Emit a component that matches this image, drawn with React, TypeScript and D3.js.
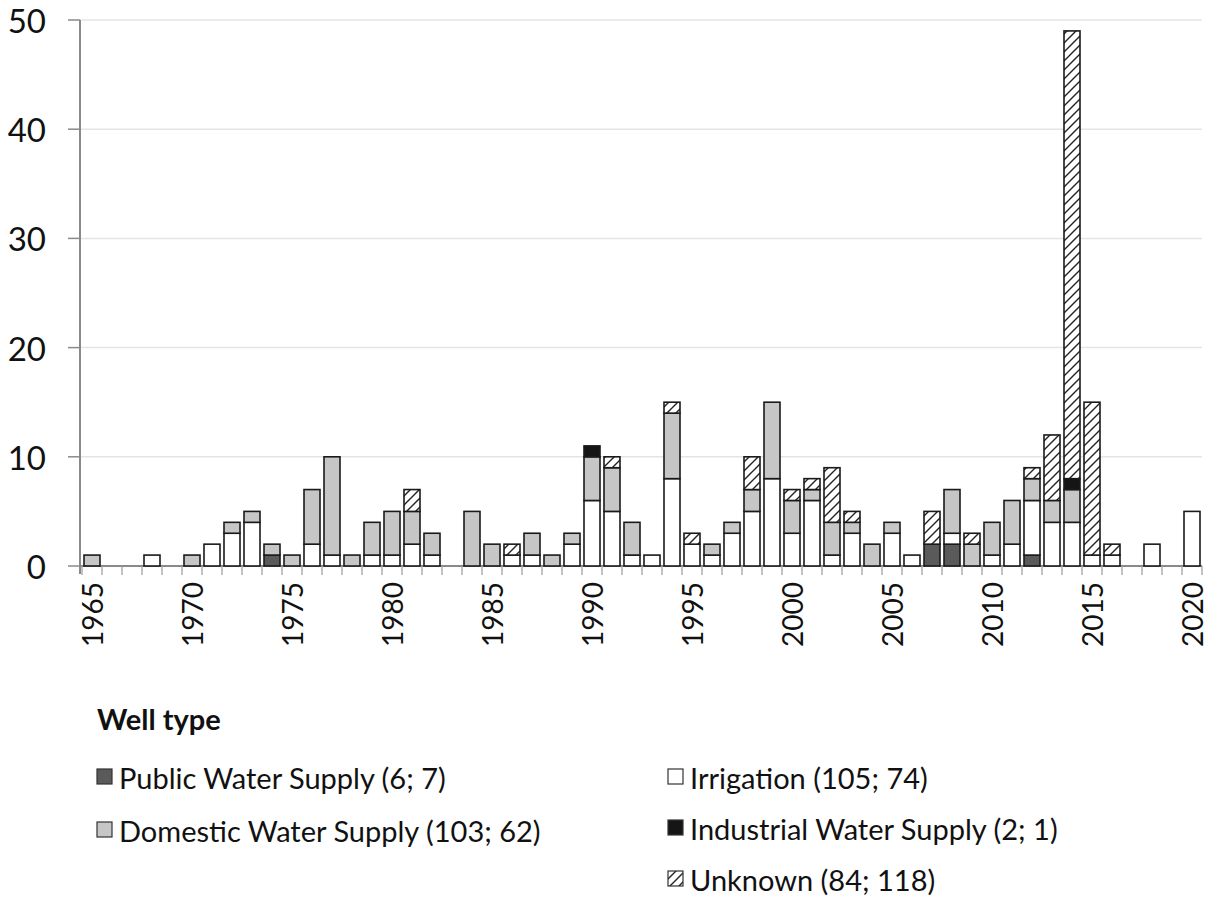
import React from 'react';
import * as d3 from 'd3';

// years on the x axis (one band per year)
const years = d3.range(1965, 2021);
const tickYears = [1965, 1970, 1975, 1980, 1985, 1990, 1995, 2000, 2005, 2010, 2015, 2020];
const yTicks = [0, 10, 20, 30, 40, 50];

// wells per year, [year, count]
const publicSupply: [number, number][] = [[1974, 1], [2007, 2], [2008, 2], [2012, 1]];
const irrigation: [number, number][] = [
  [1968, 1], [1971, 2], [1972, 3], [1973, 4], [1976, 2], [1977, 1], [1979, 1], [1980, 1],
  [1981, 2], [1982, 1], [1986, 1], [1987, 1], [1989, 2], [1990, 6], [1991, 5], [1992, 1],
  [1993, 1], [1994, 8], [1995, 2], [1996, 1], [1997, 3], [1998, 5], [1999, 8], [2000, 3],
  [2001, 6], [2002, 1], [2003, 3], [2005, 3], [2006, 1], [2008, 1], [2010, 1], [2011, 2],
  [2012, 5], [2013, 4], [2014, 4], [2015, 1], [2016, 1], [2018, 2], [2020, 5],
];
const domestic: [number, number][] = [
  [1965, 1], [1970, 1], [1972, 1], [1973, 1], [1974, 1], [1975, 1], [1976, 5], [1977, 9],
  [1978, 1], [1979, 3], [1980, 4], [1981, 3], [1982, 2], [1984, 5], [1985, 2], [1987, 2],
  [1988, 1], [1989, 1], [1990, 4], [1991, 4], [1992, 3], [1994, 6], [1996, 1], [1997, 1],
  [1998, 2], [1999, 7], [2000, 3], [2001, 1], [2002, 3], [2003, 1], [2004, 2], [2005, 1],
  [2008, 4], [2009, 2], [2010, 3], [2011, 4], [2012, 2], [2013, 2], [2014, 3],
];
const industrial: [number, number][] = [[1990, 1], [2014, 1]];
const unknown: [number, number][] = [
  [1981, 2], [1986, 1], [1991, 1], [1994, 1], [1995, 1], [1998, 3], [2000, 1], [2001, 1],
  [2002, 5], [2003, 1], [2007, 3], [2009, 1], [2012, 1], [2013, 6], [2014, 41], [2015, 14],
  [2016, 1],
];

const series = [
  { key: 'public', values: publicSupply, fill: '#5a5a5a' },
  { key: 'irrigation', values: irrigation, fill: '#ffffff' },
  { key: 'domestic', values: domestic, fill: '#c6c6c6' },
  { key: 'industrial', values: industrial, fill: '#151515' },
  { key: 'unknown', values: unknown, fill: 'url(#hatch)' },
];

const legendLeft = [
  { label: 'Public Water Supply (6; 7)', fill: '#5a5a5a' },
  { label: 'Domestic Water Supply (103; 62)', fill: '#c6c6c6' },
];
const legendRight = [
  { label: 'Irrigation (105; 74)', fill: '#ffffff' },
  { label: 'Industrial Water Supply (2; 1)', fill: '#151515' },
  { label: 'Unknown (84; 118)', fill: 'url(#hatch)' },
];

const W = 1213;
const H = 897;
const font = 'Lato, "Open Sans", sans-serif';

export default function App() {
  const table = years.map((yr) => {
    const row: any = { year: yr };
    series.forEach((s) => {
      const hit = s.values.find((v) => v[0] === yr);
      row[s.key] = hit ? hit[1] : 0;
    });
    return row;
  });

  const stacked = d3.stack<any>().keys(series.map((s) => s.key))(table);

  const x = d3.scaleBand<string>().domain(years.map(String)).range([82, 1202]).paddingInner(0.2).paddingOuter(0.1);
  const y = d3.scaleLinear().domain([0, 50]).range([566, 20]);
  const step = x.step();

  return (
    <svg width={W} height={H} style={{ position: 'absolute', left: 0, top: 0, background: '#fff' }}>
      <defs>
        <pattern id="hatch" patternUnits="userSpaceOnUse" width={9} height={9}>
          <rect width={9} height={9} fill="#fff" />
          <path d="M0,9 L9,0 M-2,2 L2,-2 M7,11 L11,7" stroke="#222" strokeWidth={1.4} />
        </pattern>
      </defs>

      {/* gridlines */}
      {yTicks.filter((t) => t > 0).map((t) => (
        <line key={t} x1={80} x2={1202} y1={y(t)} y2={y(t)} stroke="#e4e4e4" strokeWidth={1.5} />
      ))}

      {/* y axis */}
      <line x1={80} x2={80} y1={y(50)} y2={y(0) + 8} stroke="#8a8a8a" strokeWidth={2} />
      {yTicks.map((t) => (
        <g key={t}>
          <line x1={68} x2={80} y1={y(t)} y2={y(t)} stroke="#8a8a8a" strokeWidth={1.5} />
          <text x={46} y={y(t)} textAnchor="end" dominantBaseline="central" fontFamily={font} fontSize={33} fill="#111">
            {t}
          </text>
        </g>
      ))}

      {/* x axis */}
      <line x1={80} x2={1202} y1={y(0)} y2={y(0)} stroke="#8a8a8a" strokeWidth={2} />
      {years.map((yr) => {
        const bx = (x(String(yr)) as number) - (step - x.bandwidth()) / 2;
        return <line key={yr} x1={bx} x2={bx} y1={y(0)} y2={y(0) + 9} stroke="#9a9a9a" strokeWidth={1.2} />;
      })}
      <line x1={1202} x2={1202} y1={y(0)} y2={y(0) + 9} stroke="#9a9a9a" strokeWidth={1.2} />
      {tickYears.map((yr) => {
        const cx = (x(String(yr)) as number) + x.bandwidth() / 2;
        return (
          <text
            key={yr}
            transform={`translate(${cx},${y(0) + 16}) rotate(-90)`}
            textAnchor="end"
            dominantBaseline="central"
            fontFamily={font}
            fontSize={28}
            fill="#111"
          >
            {yr}
          </text>
        );
      })}

      {/* bars */}
      {stacked.map((layer, i) => (
        <g key={layer.key}>
          {layer.map((d: any) => {
            if (d[1] - d[0] <= 0) return null;
            return (
              <rect
                key={d.data.year}
                x={x(String(d.data.year))}
                width={x.bandwidth()}
                y={y(d[1])}
                height={y(d[0]) - y(d[1])}
                fill={series[i].fill}
                stroke="#1a1a1a"
                strokeWidth={1.6}
              />
            );
          })}
        </g>
      ))}

      {/* legend */}
      <text x={97} y={718} dominantBaseline="central" fontFamily={font} fontSize={29} fontWeight="bold" fill="#111">
        Well type
      </text>
      {legendLeft.map((l, i) => (
        <g key={l.label} transform={`translate(97,${777 + i * 53})`}>
          <rect x={0} y={-8} width={15} height={15} fill={l.fill} stroke="#333" strokeWidth={1.2} />
          <text x={22} y={0} dominantBaseline="central" fontFamily={font} fontSize={29} fill="#111">
            {l.label}
          </text>
        </g>
      ))}
      {legendRight.map((l, i) => (
        <g key={l.label} transform={`translate(668,${777 + i * 51})`}>
          <rect x={0} y={-8} width={15} height={15} fill={l.fill} stroke="#333" strokeWidth={1.2} />
          <text x={22} y={0} dominantBaseline="central" fontFamily={font} fontSize={29} fill="#111">
            {l.label}
          </text>
        </g>
      ))}
    </svg>
  );
}
